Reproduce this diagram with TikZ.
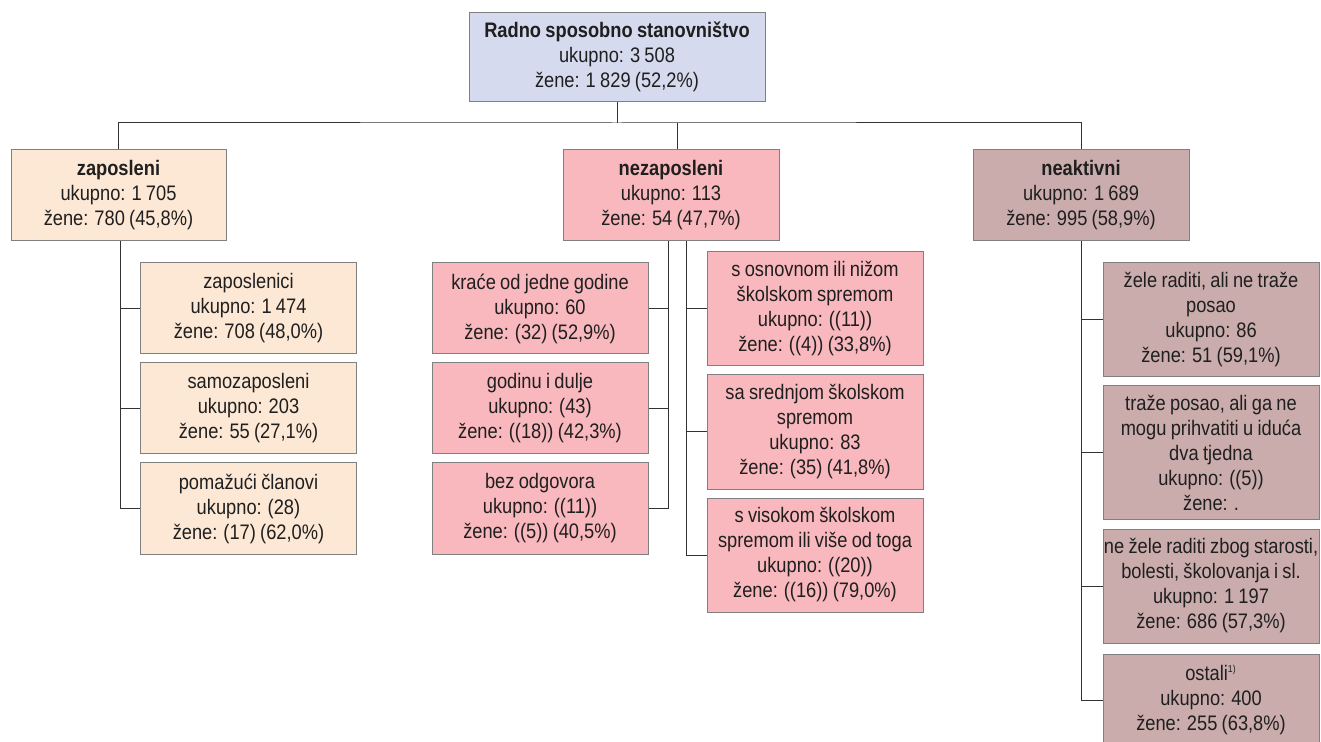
\documentclass[tikz,border=0pt]{standalone}
\usepackage{fontspec}
\setmainfont{Liberation Sans}[FakeStretch=0.87, WordSpace=0.85]
\definecolor{rootfill}{HTML}{D6DAEE}
\definecolor{zapfill}{HTML}{FDE8D5}
\definecolor{nezfill}{HTML}{F8B8BD}
\definecolor{neakfill}{HTML}{CBACAC}
\begin{document}
\begin{tikzpicture}[x=0.5pt,y=-0.5pt,
        box/.style={draw=black!50, line width=0.5pt, align=center, inner sep=0pt,
            minimum width=108pt, minimum height=45.5pt,
            font=\fontsize{10.5}{12.5}\selectfont, text=black!88},
        tall/.style={minimum height=57pt},
        link/.style={draw=black!80, line width=0.5pt}]
    \useasboundingbox (0,0) rectangle (1321,742);
    % top
    \node[box, fill=rootfill, minimum width=148pt, minimum height=44.5pt] (root) at (617,57)
        {\textbf{Radno sposobno stanovništvo}\\ukupno: 3 508\\žene: 1 829 (52,2\%)};
    \node[box, fill=zapfill, minimum width=107.5pt] (zap) at (118.5,195)
        {\textbf{zaposleni}\\ukupno: 1 705\\žene: 780 (45,8\%)};
    \node[box, fill=nezfill] (nez) at (671,195)
        {\textbf{nezaposleni}\\ukupno: 113\\žene: 54 (47,7\%)};
    \node[box, fill=neakfill] (neak) at (1081,195)
        {\textbf{neaktivni}\\ukupno: 1 689\\žene: 995 (58,9\%)};
    % zaposleni
    \node[box, fill=zapfill] (z1) at (248.5,308.5) {zaposlenici\\ukupno: 1 474\\žene: 708 (48,0\%)};
    \node[box, fill=zapfill] (z2) at (248.5,408.5) {samozaposleni\\ukupno: 203\\žene: 55 (27,1\%)};
    \node[box, fill=zapfill] (z3) at (248.5,508.5) {pomažući članovi\\ukupno: (28)\\žene: (17) (62,0\%)};
    % nezaposleni
    \node[box, fill=nezfill] (k1) at (540,308.5) {kraće od jedne godine\\ukupno: 60\\žene: (32) (52,9\%)};
    \node[box, fill=nezfill] (k2) at (540,408.5) {godinu i dulje\\ukupno: (43)\\žene: ((18)) (42,3\%)};
    \node[box, fill=nezfill] (k3) at (540,508.5) {bez odgovora\\ukupno: ((11))\\žene: ((5)) (40,5\%)};
    \node[box, tall, fill=nezfill] (s1) at (815,309) {s osnovnom ili nižom\\školskom spremom\\ukupno: ((11))\\žene: ((4)) (33,8\%)};
    \node[box, tall, fill=nezfill] (s2) at (815,432) {sa srednjom školskom\\spremom\\ukupno: 83\\žene: (35) (41,8\%)};
    \node[box, tall, fill=nezfill] (s3) at (815,555) {s visokom školskom\\spremom ili više od toga\\ukupno: ((20))\\žene: ((16)) (79,0\%)};
    % neaktivni
    \node[box, tall, fill=neakfill] (n1) at (1211,320) {žele raditi, ali ne traže\\posao\\ukupno: 86\\žene: 51 (59,1\%)};
    \node[box, fill=neakfill, minimum height=66.5pt] (n2) at (1211,452.5) {traže posao, ali ga ne\\mogu prihvatiti u iduća\\dva tjedna\\ukupno: ((5))\\žene: .};
    \node[box, tall, fill=neakfill] (n3) at (1211,586) {ne žele raditi zbog starosti,\\bolesti, školovanja i sl.\\ukupno: 1 197\\žene: 686 (57,3\%)};
    \node[box, fill=neakfill, minimum height=46pt] (n4) at (1211,700) {ostali\textsuperscript{\tiny 1)}\\ukupno: 400\\žene: 255 (63,8\%)};
    % connectors
    \coordinate (bar) at (617,123);
    \draw[link] (root.south) -- (bar);
    \draw[link] (zap.north) |- (bar) -| (neak.north);
    \draw[link] ([xshift=3pt]nez.north) -- ([xshift=3pt]nez.north |- bar);
    \foreach \c in {z1,z2,z3}
        \draw[link] (\c.west) -| ([xshift=1pt]zap.south);
    \foreach \c in {k1,k2,k3}
        \draw[link] (\c.east) -| ([xshift=-1.5pt]nez.south);
    \foreach \c in {s1,s2,s3}
        \draw[link] (\c.west) -| ([xshift=7.5pt]nez.south);
    \foreach \c in {n1,n2,n3,n4}
        \draw[link] (\c.west) -| (neak.south);
\end{tikzpicture}
\end{document}
